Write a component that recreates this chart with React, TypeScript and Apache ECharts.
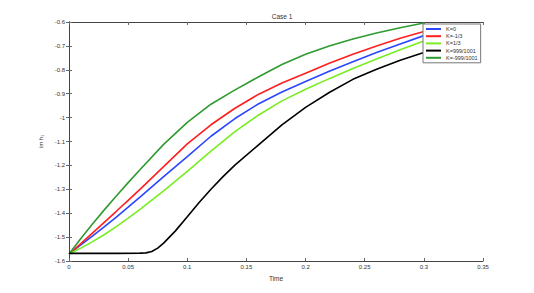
import React, { useEffect, useRef } from "react";
import * as echarts from "echarts";

const time = [0, 0.01, 0.02, 0.03, 0.04, 0.05, 0.06, 0.08, 0.1, 0.12, 0.14, 0.16, 0.18, 0.2, 0.22, 0.24, 0.26, 0.28, 0.3];
const kZero = [-1.571, -1.533, -1.495, -1.456, -1.416, -1.375, -1.333, -1.247, -1.163, -1.078, -1.005, -0.943, -0.893, -0.849, -0.806, -0.766, -0.728, -0.692, -0.657];
const kMinusThird = [-1.571, -1.527, -1.482, -1.437, -1.392, -1.346, -1.3, -1.205, -1.11, -1.03, -0.962, -0.903, -0.855, -0.814, -0.773, -0.735, -0.7, -0.668, -0.64];
const kThird = [-1.571, -1.546, -1.519, -1.489, -1.456, -1.421, -1.384, -1.307, -1.225, -1.14, -1.06, -0.99, -0.93, -0.881, -0.837, -0.795, -0.755, -0.716, -0.68];
const kMinusNear = [-1.571, -1.506, -1.444, -1.385, -1.328, -1.272, -1.218, -1.112, -1.02, -0.944, -0.885, -0.83, -0.778, -0.735, -0.7, -0.671, -0.646, -0.624, -0.604];
const blackTime = [0, 0.02, 0.04, 0.06, 0.065, 0.07, 0.075, 0.08, 0.09, 0.1, 0.11, 0.12, 0.13, 0.14, 0.16, 0.18, 0.2, 0.22, 0.24, 0.26, 0.28, 0.3];
const kNear = [-1.568, -1.568, -1.568, -1.567, -1.566, -1.56, -1.546, -1.525, -1.474, -1.415, -1.355, -1.3, -1.248, -1.2, -1.115, -1.03, -0.957, -0.895, -0.84, -0.798, -0.76, -0.728];

const names = ["K=0", "K=-1/3", "K=1/3", "K=999/1001", "K=-999/1001"];
const colors = ["#2b46ff", "#ff1f1f", "#77ee22", "#000000", "#2f9a2f"];

const xTicks = [0, 0.05, 0.1, 0.15, 0.2, 0.25, 0.3, 0.35];

export default function App() {
  const ref = useRef<HTMLDivElement>(null);
  useEffect(() => {
    if (!ref.current) return;
    const chart = echarts.init(ref.current, undefined, { renderer: "svg" });
    const pairs = (ts: number[], vs: number[]) => ts.map((t, i) => [t, vs[i]]);
    const seriesData = [
      pairs(time, kZero),
      pairs(time, kMinusThird),
      pairs(time, kThird),
      pairs(blackTime, kNear),
      pairs(time, kMinusNear),
    ];
    const font = "Liberation Sans, Arial, sans-serif";
    const axisLine = { show: true, lineStyle: { color: "#444", width: 1 } };
    const axisTick = { show: true, inside: true, length: 3, lineStyle: { color: "#666" } };
    chart.setOption({
      animation: false,
      backgroundColor: "#fff",
      title: {
        text: "Case 1",
        left: 277,
        top: 8,
        textAlign: "center",
        textStyle: { fontSize: 6.5, fontWeight: "normal", color: "#333", fontFamily: font },
      },
      grid: { left: 69, right: 51, top: 22, bottom: 32, containLabel: false },
      legend: {
        orient: "vertical",
        left: 423,
        top: 24,
        data: names,
        icon: "rect",
        backgroundColor: "#fff",
        borderColor: "#777",
        borderWidth: 1,
        padding: [2, 3, 2, 3],
        itemGap: 1.2,
        itemWidth: 15,
        itemHeight: 2,
        textStyle: { fontSize: 5.5, color: "#333", fontFamily: font, lineHeight: 6 },
      },
      xAxis: [
        {
          type: "value",
          min: 0,
          max: 0.35,
          interval: 0.05,
          position: "bottom",
          name: "Time",
          nameLocation: "middle",
          nameGap: 13,
          nameTextStyle: { fontSize: 6.5, color: "#333", fontFamily: font },
          axisLine,
          axisTick,
          splitLine: { show: false },
          axisLabel: {
            fontSize: 6,
            color: "#333",
            fontFamily: font,
            margin: 3,
            formatter: (v: number) => {
              const found = xTicks.find((t) => Math.abs(t - v) < 1e-9);
              return found === undefined ? "" : String(found);
            },
          },
        },
        {
          type: "value",
          min: 0,
          max: 0.35,
          interval: 0.05,
          position: "top",
          axisLine,
          axisTick,
          axisLabel: { show: false },
          splitLine: { show: false },
        },
      ],
      yAxis: [
        {
          type: "value",
          min: -1.6,
          max: -0.6,
          interval: 0.1,
          position: "left",
          name: "im h₁",
          nameLocation: "middle",
          nameGap: 15,
          nameRotate: 90,
          nameTextStyle: { fontSize: 6, color: "#333", fontFamily: font },
          axisLine,
          axisTick,
          splitLine: { show: false },
          axisLabel: {
            fontSize: 6,
            color: "#333",
            fontFamily: font,
            margin: 4,
            formatter: (v: number) => String(Math.round(v * 10) / 10),
          },
        },
        {
          type: "value",
          min: -1.6,
          max: -0.6,
          interval: 0.1,
          position: "right",
          axisLine,
          axisTick,
          axisLabel: { show: false },
          splitLine: { show: false },
        },
      ],
      series: names.map((n, i) => ({
        name: n,
        type: "line",
        data: seriesData[i],
        symbol: "none",
        showSymbol: false,
        smooth: false,
        lineStyle: { color: colors[i], width: 1.6 },
        itemStyle: { color: colors[i] },
        z: i === 3 ? 3 : 2,
      })),
    });
    return () => chart.dispose();
  }, []);
  return <div ref={ref} style={{ width: 534, height: 293, position: "absolute", left: 0, top: 0 }} />;
}
